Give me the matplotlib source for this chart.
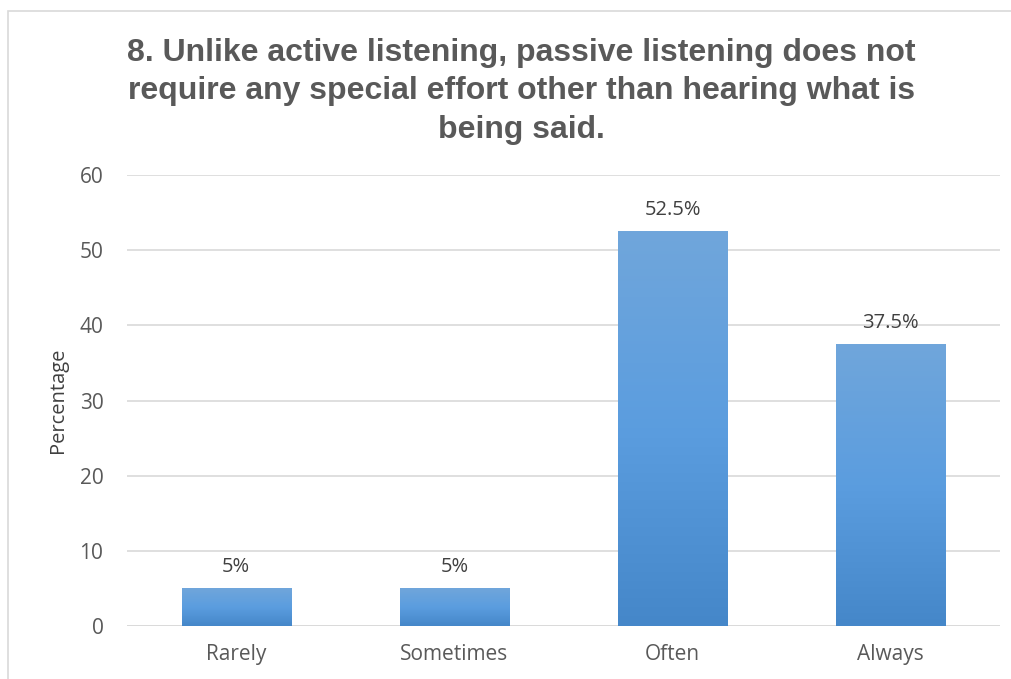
import matplotlib.pyplot as plt
import numpy as np
from matplotlib.colors import LinearSegmentedColormap
from matplotlib.patches import Rectangle

categories = ['Rarely', 'Sometimes', 'Often', 'Always']
percent = [5, 5, 52.5, 37.5]
labels = ['5%', '5%', '52.5%', '37.5%']

title = ('8. Unlike active listening, passive listening does not\n'
         'require any special effort other than hearing what is\n'
         'being said.')

plt.rcParams['font.family'] = ['Open Sans', 'DejaVu Sans']

fig = plt.figure(figsize=(10.12, 6.79), dpi=100)
ax = fig.add_axes([0.1255, 0.078, 0.8625, 0.664])

# light frame around the chart area
fig.patches.append(Rectangle((8 / 1012, -0.1), 1.5, (679 - 11) / 679 + 0.1,
                             transform=fig.transFigure, fill=False,
                             edgecolor='#d9d9d9', linewidth=1.2))

x = np.arange(len(categories))
bars = ax.bar(x, percent, width=0.5, color='none', zorder=3)

# vertical gradient fill for each bar
cmap = LinearSegmentedColormap.from_list('bar', ['#4587c9', '#5b9ddf', '#70a6db'])
grad = np.linspace(0, 1, 256).reshape(-1, 1)
for b in bars:
    x0, w, h = b.get_x(), b.get_width(), b.get_height()
    ax.imshow(grad, extent=(x0, x0 + w, 0, h), origin='lower', cmap=cmap,
              aspect='auto', zorder=3)

for xi, v, lab in zip(x, percent, labels):
    ax.annotate(lab, (xi, v), xytext=(0, 8), textcoords='offset points',
                ha='center', va='bottom', fontsize=14.5, color='#404040')

ax.set_xlim(-0.5, len(categories) - 0.5)
ax.set_ylim(0, 60)
ax.set_yticks(range(0, 61, 10))
ax.set_xticks(x)
ax.set_xticklabels(categories)
ax.tick_params(axis='both', length=0, labelsize=15, colors='#595959')
ax.tick_params(axis='x', pad=13)
ax.tick_params(axis='y', pad=17)
ax.grid(axis='y', color='#d9d9d9', linewidth=1.2, zorder=0)
for s in ax.spines.values():
    s.set_visible(False)
ax.axhline(0, color='#d9d9d9', linewidth=1.2, zorder=2)

ax.set_ylabel('Percentage', fontsize=14.5, color='#404040')
ax.yaxis.set_label_coords(-0.068, 0.5)

fig.text(0.515, 0.944, title, ha='center', va='top', fontsize=23,
         fontweight='bold', family='Liberation Sans', color='#595959',
         linespacing=1.36)

fig.savefig('out.png', dpi=100)
